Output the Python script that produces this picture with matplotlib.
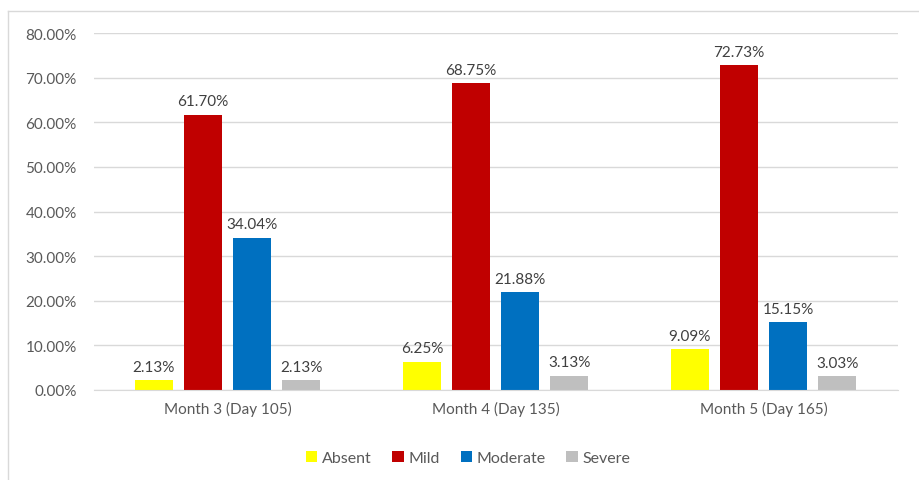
import numpy as np
import matplotlib.pyplot as plt
from matplotlib.lines import Line2D

categories = ['Month 3 (Day 105)', 'Month 4 (Day 135)', 'Month 5 (Day 165)']
series = ['Absent', 'Mild', 'Moderate', 'Severe']
absent = [2.13, 6.25, 9.09]
mild = [61.70, 68.75, 72.73]
moderate = [34.04, 21.88, 15.15]
severe = [2.13, 3.13, 3.03]
colors = ['#FFFF00', '#C00000', '#0070C0', '#BFBFBF']

plt.rcParams['font.family'] = ['Lato', 'DejaVu Sans']
txt = '#595959'

fig = plt.figure(figsize=(9.19, 4.81), dpi=100)
ax = fig.add_axes([93.5 / 919, 90 / 481, 804 / 919, 357 / 481])

# outer chart frame (only left and top visible in the crop)
fig.add_artist(Line2D([8 / 919, 8 / 919], [0, 1 - 12 / 481], transform=fig.transFigure, color='#D9D9D9', lw=1))
fig.add_artist(Line2D([8 / 919, 1], [1 - 12 / 481, 1 - 12 / 481], transform=fig.transFigure, color='#D9D9D9', lw=1))

x = np.arange(len(categories))
width = 0.142
step = 0.183
data = [absent, mild, moderate, severe]
for i, (name, vals) in enumerate(zip(series, data)):
    pos = x + (i - 1.5) * step
    bars = ax.bar(pos, vals, width, color=colors[i], label=name, zorder=2)
    for b, v in zip(bars, vals):
        ax.text(b.get_x() + b.get_width() / 2, v + 1.5, f'{v:.2f}%',
                ha='center', va='bottom', fontsize=11, color='#404040')

ax.set_xlim(-0.5, 2.5)
ax.set_ylim(0, 80)
ax.set_yticks(np.arange(0, 81, 10))
ax.set_yticklabels([f'{t:.2f}%' for t in np.arange(0, 81, 10)])
ax.set_xticks(x)
ax.set_xticklabels(categories)
ax.tick_params(axis='both', length=0, labelsize=11, labelcolor=txt)
ax.tick_params(axis='y', pad=12)
ax.tick_params(axis='x', pad=8)
ax.grid(axis='y', color='#D9D9D9', lw=1, zorder=0)
for s in ['top', 'right', 'left']:
    ax.spines[s].set_visible(False)
ax.spines['bottom'].set_color('#D9D9D9')

ax.legend(loc='center', bbox_to_anchor=(0.466, -0.19), ncol=4, frameon=False,
          fontsize=11.5, handlelength=0.7, handleheight=0.7, handletextpad=0.3,
          columnspacing=1.3, labelcolor=txt)

fig.savefig('out.png', dpi=100)
